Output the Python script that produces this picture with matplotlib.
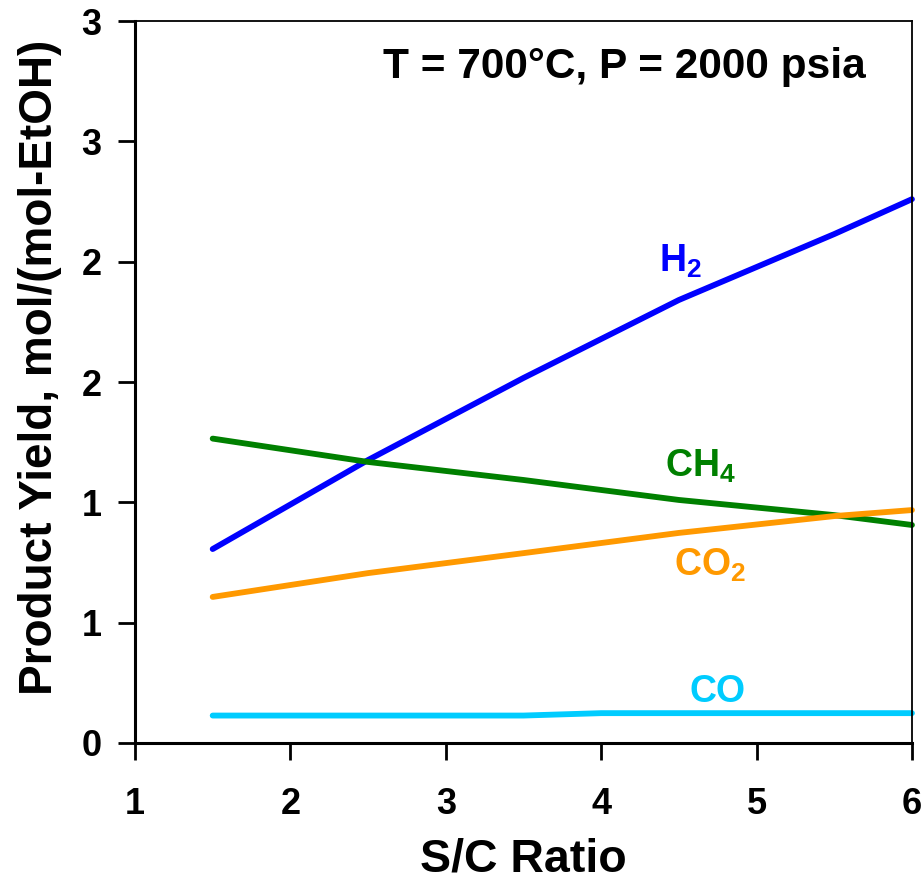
import matplotlib
matplotlib.use('Agg')
import matplotlib.pyplot as plt

plt.rcParams['font.family'] = ['Liberation Sans', 'DejaVu Sans']
plt.rcParams['font.weight'] = 'bold'
plt.rcParams['mathtext.fontset'] = 'custom'
plt.rcParams['mathtext.rm'] = 'Liberation Sans:bold'
plt.rcParams['mathtext.bf'] = 'Liberation Sans:bold'
plt.rcParams['mathtext.it'] = 'Liberation Sans:bold'

# Data
sc_ratio = [1.5, 2.5, 3.5, 4.5, 5.5, 6.0]
h2 = [0.806, 1.176, 1.517, 1.841, 2.115, 2.26]
ch4 = [1.265, 1.168, 1.093, 1.010, 0.947, 0.906]
co2 = [0.607, 0.706, 0.789, 0.873, 0.943, 0.968]
sc_co = [1.5, 3.5, 4.0, 6.0]
co = [0.114, 0.114, 0.124, 0.124]

y_ticks = [0, 0.5, 1, 1.5, 2, 2.5, 3]
y_tick_labels = ['0', '1', '1', '2', '2', '3', '3']
x_ticks = [1, 2, 3, 4, 5, 6]

fig = plt.figure(figsize=(9.22, 8.8), dpi=100)
ax = fig.add_axes([0.1464, 0.1557, 0.8427, 0.8203])

lw = 4.2
ax.plot(sc_ratio, h2, color='#0000FF', lw=lw, solid_capstyle='round', clip_on=False)
ax.plot(sc_ratio, ch4, color='#008000', lw=lw, solid_capstyle='round', clip_on=False)
ax.plot(sc_ratio, co2, color='#FF9900', lw=lw, solid_capstyle='round', clip_on=False)
ax.plot(sc_co, co, color='#00CCFF', lw=lw, solid_capstyle='round', clip_on=False)

# Species labels
ax.text(4.51, 2.0, r'H$_2$', color='#0000FF', fontsize=27, ha='center', va='center')
ax.text(4.64, 1.15, r'CH$_4$', color='#008000', fontsize=27, ha='center', va='center')
ax.text(4.70, 0.74, r'CO$_2$', color='#FF9900', fontsize=27, ha='center', va='center')
ax.text(4.75, 0.21, 'CO', color='#00CCFF', fontsize=27, ha='center', va='center')

ax.text(5.70, 2.81, 'T = 700\u00b0C, P = 2000 psia', fontsize=30.5, ha='right', va='center')

ax.set_xlim(1, 6)
ax.set_ylim(0, 3)
ax.set_xticks(x_ticks)
ax.set_yticks(y_ticks)
ax.set_yticklabels(y_tick_labels)
ax.tick_params(direction='out', length=12, width=2, labelsize=26, pad=12)
ax.tick_params(axis='x', pad=20)

for side in ['left', 'bottom']:
    ax.spines[side].set_linewidth(2.2)
for side in ['top', 'right']:
    ax.spines[side].set_linewidth(1.3)

ax.set_xlabel('S/C Ratio', fontsize=33.5, fontweight='bold', labelpad=11)
ax.set_ylabel('Product Yield, mol/(mol-EtOH)', fontsize=33, fontweight='bold')
ax.yaxis.set_label_coords(-0.094, 0.52)

fig.savefig('out.png', dpi=100)
